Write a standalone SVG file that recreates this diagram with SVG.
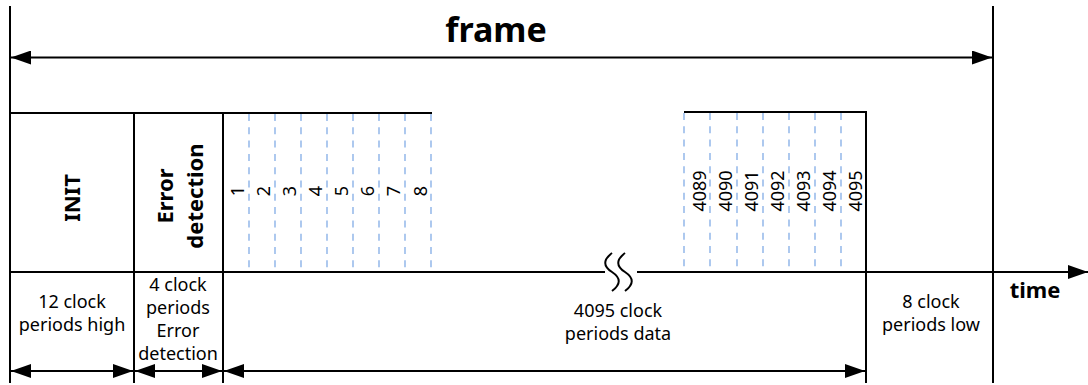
<svg xmlns="http://www.w3.org/2000/svg" width="1088" height="385" viewBox="0 0 1088 385">
<style>
.ln{stroke:#000;stroke-width:2;fill:none}
.dash{stroke:#82ace6;stroke-width:1.3;stroke-dasharray:7 6.3;fill:none}
.t{font-family:"Noto Sans","Open Sans","DejaVu Sans",sans-serif;fill:#000}
.lab{font-size:18px;text-anchor:middle}
.b{font-weight:bold;text-anchor:middle}
.num{font-size:18px;text-anchor:middle}
</style>
<defs>
<marker id="ah" markerWidth="20" markerHeight="14" refX="20" refY="7" orient="auto-start-reverse" markerUnits="userSpaceOnUse">
<path d="M0,0 L20,7 L0,14 Z" fill="#000"/>
</marker>
</defs>
<rect width="1088" height="385" fill="#fff"/>
<g id="frame">
<line class="ln" x1="10" y1="6" x2="10" y2="383"/>
<line class="ln" x1="993" y1="6" x2="993" y2="383"/>
<text class="t b" x="496" y="42" font-size="34">frame</text>
</g>
<g id="signal">
<polyline class="ln" points="10,113 432,113"/>
<line class="ln" x1="134" y1="113" x2="134" y2="383"/>
<line class="ln" x1="223" y1="113" x2="223" y2="383"/>
<polyline class="ln" points="684,112 866,112 866,383"/>
<line class="ln" x1="10" y1="272" x2="605" y2="272"/>
<path class="ln" d="M612,253 C603,260 603,266 612,272 C621,278 621,284 612,291"/>
<path class="ln" d="M625,253 C616,260 616,266 625,272 C634,278 634,284 625,291"/>
</g>
<g id="init">
<text class="t b" font-size="22" transform="translate(80,198) rotate(-90)">INIT</text>
</g>
<g id="error-detection">
<text class="t b" font-size="22" transform="translate(173,196) rotate(-90)">Error</text>
<text class="t b" font-size="22" transform="translate(203,196) rotate(-90)">detection</text>
</g>
<g id="bits-first">
<line class="dash" x1="249" y1="114" x2="249" y2="269"/>
<line class="dash" x1="275" y1="114" x2="275" y2="269"/>
<line class="dash" x1="301" y1="114" x2="301" y2="269"/>
<line class="dash" x1="327" y1="114" x2="327" y2="269"/>
<line class="dash" x1="353" y1="114" x2="353" y2="269"/>
<line class="dash" x1="379" y1="114" x2="379" y2="269"/>
<line class="dash" x1="405" y1="114" x2="405" y2="269"/>
<line class="dash" x1="431" y1="114" x2="431" y2="269"/>
<text class="t num" transform="translate(244,191) rotate(-90)">1</text>
<text class="t num" transform="translate(270,191) rotate(-90)">2</text>
<text class="t num" transform="translate(296,191) rotate(-90)">3</text>
<text class="t num" transform="translate(322,191) rotate(-90)">4</text>
<text class="t num" transform="translate(348,191) rotate(-90)">5</text>
<text class="t num" transform="translate(374,191) rotate(-90)">6</text>
<text class="t num" transform="translate(400,191) rotate(-90)">7</text>
<text class="t num" transform="translate(427,191) rotate(-90)">8</text>
</g>
<g id="bits-last">
<line class="dash" x1="684" y1="113" x2="684" y2="269"/>
<line class="dash" x1="710" y1="113" x2="710" y2="269"/>
<line class="dash" x1="737" y1="113" x2="737" y2="269"/>
<line class="dash" x1="763" y1="113" x2="763" y2="269"/>
<line class="dash" x1="789" y1="113" x2="789" y2="269"/>
<line class="dash" x1="815" y1="113" x2="815" y2="269"/>
<line class="dash" x1="841" y1="113" x2="841" y2="269"/>
<text class="t num" transform="translate(706,191) rotate(-90)">4089</text>
<text class="t num" transform="translate(732,191) rotate(-90)">4090</text>
<text class="t num" transform="translate(758,191) rotate(-90)">4091</text>
<text class="t num" transform="translate(784,191) rotate(-90)">4092</text>
<text class="t num" transform="translate(810,191) rotate(-90)">4093</text>
<text class="t num" transform="translate(836,191) rotate(-90)">4094</text>
<text class="t num" transform="translate(862,191) rotate(-90)">4095</text>
</g>
<g id="labels">
<text class="t lab" x="72" y="308">12 clock</text>
<text class="t lab" x="72" y="331">periods high</text>
<text class="t lab" x="178" y="291">4 clock</text>
<text class="t lab" x="178" y="314">periods</text>
<text class="t lab" x="178" y="337">Error</text>
<text class="t lab" x="178" y="360">detection</text>
<text class="t lab" x="618" y="317">4095 clock</text>
<text class="t lab" x="618" y="340">periods data</text>
<text class="t lab" x="931" y="308">8 clock</text>
<text class="t lab" x="931" y="331">periods low</text>
<text class="t b" x="1035" y="298" font-size="22">time</text>
</g>
<g id="connectors">
<line class="ln" x1="11" y1="57.5" x2="992" y2="57.5" marker-start="url(#ah)" marker-end="url(#ah)"/>
<line class="ln" x1="637" y1="272" x2="1088" y2="272" marker-end="url(#ah)"/>
<line class="ln" x1="11" y1="371" x2="133" y2="371" marker-start="url(#ah)" marker-end="url(#ah)"/>
<line class="ln" x1="135" y1="371" x2="222" y2="371" marker-start="url(#ah)" marker-end="url(#ah)"/>
<line class="ln" x1="224" y1="371" x2="865" y2="371" marker-start="url(#ah)" marker-end="url(#ah)"/>
</g>
</svg>
